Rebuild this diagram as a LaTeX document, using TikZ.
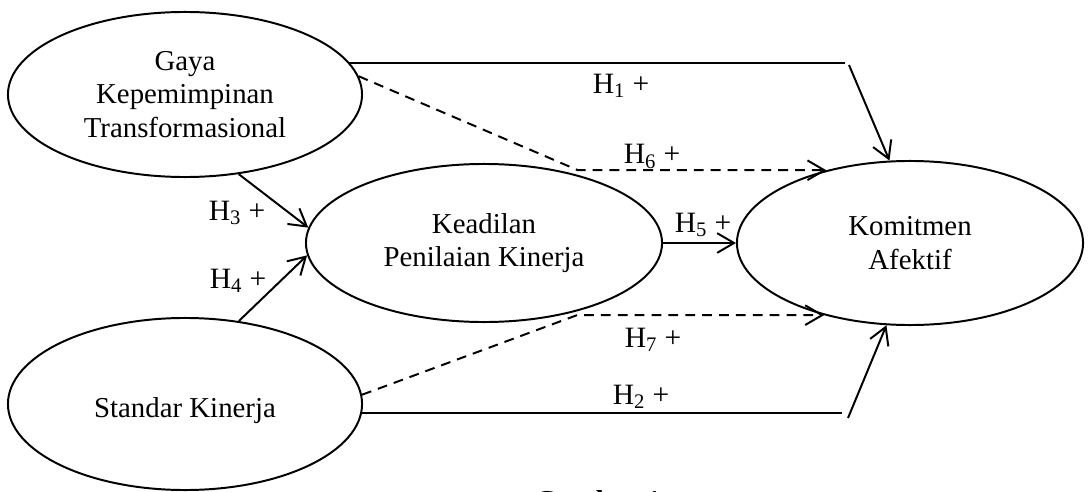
\documentclass[tikz,border=0pt]{standalone}
\usepackage{fontspec}
\setmainfont{Liberation Serif}
\usetikzlibrary{shapes.geometric,arrows.meta}
\tikzset{
  ell/.style={ellipse, draw, line width=1.4pt, inner sep=0pt, align=center,
              font=\fontsize{20.5pt}{23.8pt}\selectfont},
  conn/.style={line width=1.4pt},
  arr/.style={conn, -{Straight Barb[length=12pt,width=14pt]}},
  dashline/.style={dash pattern=on 7pt off 5pt},
  hlabel/.style={font=\fontsize{21pt}{24pt}\selectfont, anchor=base, inner sep=0pt}
}
\begin{document}
\begin{tikzpicture}[x=0.025cm,y=-0.025cm]
\useasboundingbox (0,0) rectangle (1089,492);
% ellipses
\node[ell, minimum width=8.85cm, minimum height=4.125cm] (g) at (185,94.5)
  {Gaya\\Kepemimpinan\\Transformasional};
\node[ell, minimum width=8.9cm, minimum height=3.95cm] (kp) at (484,243)
  {Keadilan\\Penilaian Kinerja};
\node[ell, minimum width=8.65cm, minimum height=4.1cm] (km) at (910,243)
  {Komitmen\\Afektif};
\node[ell, minimum width=8.85cm, minimum height=4.3cm, text height=18.9pt, text depth=0pt] (s) at (185,404)
  {Standar Kinerja};
% corner coordinates
\coordinate (c1a) at (845,62);
\coordinate (c1b) at (849,65);
\coordinate (c6) at (578,172);
\coordinate (c7) at (577,315);
\coordinate (c2a) at (842,414);
\coordinate (c2b) at (848,418);
% H1
\draw[conn] (g.11.3) -- (g.11.3 -| c1a);
\draw[arr] (c1b) -- (km.104);
% H6
\draw[arr, dashline] (g.6.7) -- (c6 |- km.139) -- (km.139);
% H3, H4
\draw[arr] (g.-56) -- (kp.175.5);
\draw[arr] (s.57.1) -- (kp.184.9);
% H5
\draw[arr] (kp.east) -- (km.west);
% H7
\draw[arr, dashline] (s.3.6) -- (c7 |- km.220) -- (km.220);
% H2
\draw[conn] (s.-3) -- (s.-3 -| c2a);
\draw[arr] (c2b) -- (km.254);
% labels
\node[hlabel] (l1) at (621,93.3) {H\textsubscript{1} +};
\node[hlabel] (l6) at (652,164) {H\textsubscript{6} +};
\node[hlabel] (l3) at (237,220) {H\textsubscript{3} +};
\node[hlabel] (l4) at (238,288) {H\textsubscript{4} +};
\node[hlabel] (l5) at (703,232) {H\textsubscript{5} +};
\node[hlabel] (l7) at (653,347) {H\textsubscript{7} +};
\node[hlabel] (l2) at (641,404) {H\textsubscript{2} +};
% caption (cut off at the bottom edge, as in the source)
\node[font=\fontsize{20.5pt}{24pt}\selectfont\bfseries, anchor=base, inner sep=0pt] (cap) at (598,510.3) {Gambar 1};
\end{tikzpicture}
\end{document}
